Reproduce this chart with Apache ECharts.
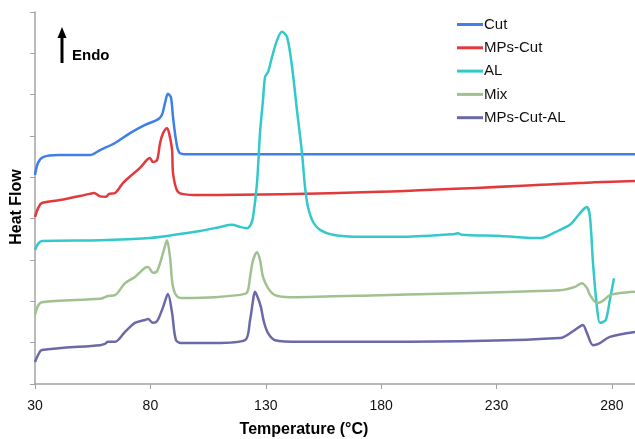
<!DOCTYPE html>
<html>
<head>
<meta charset="utf-8">
<script src="https://cdn.jsdelivr.net/npm/echarts@6/dist/echarts.min.js"></script>
<style>html,body{margin:0;padding:0;background:#fff;}#c{width:635px;height:439px;}</style>
</head>
<body>
<div id="c"></div>
<script>
// [temperature °C, heat flow (arbitrary units, offset curves)]
const seriesNames = ['Cut', 'MPs-Cut', 'AL', 'Mix', 'MPs-Cut-AL'];
const xTicks = [30, 80, 130, 180, 230, 280];

const cut = [[30,5.06],[31.3,5.35],[33.5,5.49],[40,5.54],[53.8,5.54],[58.2,5.66],[64.7,5.83],[71.2,6.07],[77.7,6.27],[82.9,6.39],[85.0,6.51],[86.3,6.79],[87.6,7.02],[88.9,6.94],[89.8,6.46],[91.1,5.90],[92.4,5.61],[95,5.56],[150,5.56],[290,5.56]];

const mpsCut = [[30,4.04],[31.3,4.25],[33,4.38],[40.8,4.45],[53.8,4.60],[55.6,4.62],[58.2,4.54],[60.8,4.53],[62.1,4.60],[64.7,4.62],[68.1,4.86],[72.0,5.06],[75.5,5.23],[78.5,5.42],[79.8,5.47],[81.1,5.37],[82.9,5.42],[84.2,5.83],[85.5,6.07],[87.2,6.19],[88.1,6.07],[89.4,5.66],[89.8,5.11],[91.5,4.69],[93.7,4.60],[101.5,4.57],[179.5,4.65],[266.1,4.86],[272.6,4.88],[290,4.91]];

const al = [[30,3.24],[31.3,3.39],[33,3.46],[58.2,3.48],[79.8,3.53],[101.5,3.70],[110.2,3.80],[115.4,3.85],[118.8,3.80],[121.9,3.77],[123.6,3.87],[124.5,4.04],[126.2,4.86],[127.5,6.07],[128.8,6.87],[129.7,7.43],[131.0,7.55],[132.7,7.91],[134.9,8.32],[137.0,8.52],[139.2,8.40],[141.4,7.67],[143.5,6.63],[145.7,5.59],[147.0,4.77],[148.3,4.28],[150.5,3.92],[153.5,3.73],[159.1,3.61],[170.8,3.56],[188.1,3.56],[212.0,3.63],[213.3,3.65],[215.0,3.61],[231.5,3.58],[248.8,3.53],[257.5,3.73],[261.8,3.85],[264.8,4.04],[267.4,4.21],[269.2,4.28],[270.5,4.04],[271.8,2.93],[273.5,1.86],[274.8,1.48],[276.1,1.50],[277.4,1.55],[279.1,2.03],[280.9,2.56]];

const mix = [[30,1.67],[31.3,1.89],[33,1.98],[58.2,2.06],[60.3,2.10],[61.6,2.13],[64.7,2.15],[69.0,2.44],[73.3,2.59],[77.7,2.81],[79.0,2.83],[81.1,2.69],[82.9,2.73],[85.5,3.17],[87.2,3.48],[88.5,3.07],[89.8,2.35],[92.0,2.10],[95.0,2.08],[108.0,2.10],[121.0,2.18],[122.3,2.27],[123.2,2.59],[124.5,3.00],[126.2,3.19],[127.5,3.00],[128.8,2.59],[131.0,2.32],[134.0,2.15],[140.5,2.10],[179.5,2.15],[257.5,2.27],[264.0,2.35],[267.0,2.44],[269.2,2.32],[270.5,2.15],[273.5,1.96],[276.1,2.01],[279.1,2.15],[283.5,2.20],[290,2.23]];

const mpsCutAl = [[30,0.53],[31.3,0.70],[33,0.82],[58.2,0.94],[60.3,0.97],[61.6,1.02],[64.7,1.02],[69.0,1.26],[73.3,1.48],[77.7,1.55],[79.0,1.57],[81.1,1.48],[82.9,1.52],[85.5,1.86],[87.6,2.18],[89.4,1.72],[91.1,1.06],[93.7,0.99],[108.0,0.99],[121.0,1.06],[123.2,1.55],[124.5,2.03],[125.3,2.23],[126.6,2.08],[127.9,1.86],[129.2,1.50],[131.0,1.23],[134.0,1.06],[144.8,1.02],[179.5,1.02],[257.5,1.11],[264.0,1.31],[267.4,1.43],[269.2,1.23],[271.8,0.94],[274.8,0.99],[279.1,1.14],[290,1.26]];

const colors = ['#3f7fe8', '#e23a3c', '#33c9cb', '#a0c190', '#6b69a8'];
const datasets = [cut, mpsCut, al, mix, mpsCutAl];

const chart = echarts.init(document.getElementById('c'), null, {renderer: 'canvas'});
const axisColor = '#a3a3a3';
chart.setOption({
  animation: false,
  backgroundColor: '#ffffff',
  textStyle: {fontFamily: 'Liberation Sans, Arial, sans-serif'},
  grid: {left: 35, right: 0, top: 12, bottom: 55, containLabel: false},
  legend: {
    orient: 'vertical', left: 457, top: 16,
    itemWidth: 26, itemHeight: 3, itemGap: 6.3, padding: 0,
    icon: 'rect',
    textStyle: {fontSize: 15, color: '#111', lineHeight: 17, padding: [0,0,0,-4]},
    data: seriesNames
  },
  xAxis: {
    type: 'value', min: 30, max: 290, interval: 50,
    axisLine: {lineStyle: {color: axisColor, width: 1.5}},
    axisTick: {show: true, length: 5, lineStyle: {color: axisColor}},
    splitLine: {show: false},
    axisLabel: {fontSize: 14, color: '#111', margin: 15, showMaxLabel: false,
      formatter: v => xTicks.includes(v) ? String(v) : ''}
  },
  yAxis: {
    type: 'value', min: 0, max: 9, interval: 1,
    axisLine: {show: true, lineStyle: {color: axisColor, width: 1.5}},
    axisTick: {show: true, length: 5, lineStyle: {color: axisColor}},
    axisLabel: {show: false},
    splitLine: {show: false}
  },
  graphic: [
    {type: 'text', x: 17, y: 207, rotation: Math.PI / 2,
     style: {text: 'Heat Flow', font: 'bold 16px Liberation Sans, Arial, sans-serif', fill: '#000', textAlign: 'center', textVerticalAlign: 'middle'}},
    {type: 'text', x: 304, y: 430,
     style: {text: 'Temperature (°C)', font: 'bold 16px Liberation Sans, Arial, sans-serif', fill: '#000', textAlign: 'center', textVerticalAlign: 'middle'}},
    {type: 'line', shape: {x1: 62, y1: 63, x2: 62, y2: 34}, style: {stroke: '#000', lineWidth: 3}},
    {type: 'polygon', shape: {points: [[62, 27], [57.5, 38], [66.5, 38]]}, style: {fill: '#000'}},
    {type: 'text', x: 72, y: 56,
     style: {text: 'Endo', font: 'bold 15px Liberation Sans, Arial, sans-serif', fill: '#000', textAlign: 'left', textVerticalAlign: 'middle'}}
  ],
  series: seriesNames.map((name, i) => ({
    name: name, type: 'line', data: datasets[i],
    showSymbol: false, symbol: 'none', smooth: 0.3,
    lineStyle: {color: colors[i], width: 2.5},
    itemStyle: {color: colors[i]}
  }))
});
</script>
</body>
</html>
